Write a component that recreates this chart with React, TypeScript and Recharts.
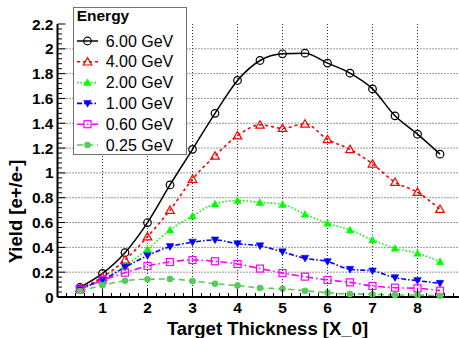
import React from 'react';
import { LineChart, Line, XAxis, YAxis, CartesianGrid, Legend } from 'recharts';

// ---- data ----
const thickness = [0.5, 1, 1.5, 2, 2.5, 3, 3.5, 4, 4.5, 5, 5.5, 6, 6.5, 7, 7.5, 8, 8.5];
const yield6GeV = [0.078, 0.19, 0.357, 0.6, 0.903, 1.19, 1.48, 1.745, 1.906, 1.96, 1.965, 1.885, 1.804, 1.677, 1.46, 1.312, 1.151];
const yield4GeV = [0.07, 0.16, 0.298, 0.486, 0.7, 0.95, 1.137, 1.3, 1.387, 1.36, 1.395, 1.27, 1.19, 1.073, 0.925, 0.844, 0.707];
const yield2GeV = [0.06, 0.14, 0.25, 0.385, 0.54, 0.653, 0.75, 0.777, 0.762, 0.746, 0.667, 0.594, 0.54, 0.46, 0.393, 0.352, 0.285];
const yield1GeV = [0.07, 0.137, 0.24, 0.333, 0.406, 0.441, 0.46, 0.43, 0.412, 0.364, 0.312, 0.285, 0.223, 0.21, 0.156, 0.132, 0.11];
const yield060GeV = [0.06, 0.135, 0.196, 0.25, 0.282, 0.298, 0.288, 0.266, 0.229, 0.193, 0.164, 0.137, 0.118, 0.089, 0.075, 0.07, 0.051];
const yield025GeV = [0.048, 0.094, 0.131, 0.143, 0.145, 0.129, 0.107, 0.092, 0.073, 0.066, 0.05, 0.035, 0.024, 0.022, 0.016, 0.016, 0.01];
const energyLabels = ['6.00 GeV', '4.00 GeV', '2.00 GeV', '1.00 GeV', '0.60 GeV', '0.25 GeV'];
const legendTitle = 'Energy';
const xTitle = 'Target Thickness [X_0]';
const yTitle = 'Yield [e+/e-]';

const xMajorTicks = [1, 2, 3, 4, 5, 6, 7, 8];
const yMajorTicks = [0.2, 0.4, 0.6, 0.8, 1, 1.2, 1.4, 1.6, 1.8, 2];
// all tick positions (major + minor subdivisions)
const xAllTicks = Array.from({ length: 44 }, (_, i) => Math.round((i + 1) * 2) / 10);
const yAllTicks = Array.from({ length: 56 }, (_, i) => (i * 4) / 100);

const FONT = '"Liberation Sans", Arial, Helvetica, sans-serif';

type Shape = 'openCircle' | 'openTriangle' | 'triangle' | 'downTriangle' | 'openSquare' | 'dot';

const SERIES: { key: string; name: string; values: number[]; color: string; dash?: string; shape: Shape; width: number }[] = [
  { key: 'e600', name: energyLabels[0], values: yield6GeV, color: '#000000', dash: undefined, shape: 'openCircle', width: 1.5 },
  { key: 'e400', name: energyLabels[1], values: yield4GeV, color: '#ff0000', dash: '3 3', shape: 'openTriangle', width: 1.6 },
  { key: 'e200', name: energyLabels[2], values: yield2GeV, color: '#00ff00', dash: '1.5 2', shape: 'triangle', width: 1.6 },
  { key: 'e100', name: energyLabels[3], values: yield1GeV, color: '#0000ff', dash: '5 2 1.5 2', shape: 'downTriangle', width: 1.6 },
  { key: 'e060', name: energyLabels[4], values: yield060GeV, color: '#ff00ff', dash: '7 3 1.5 3', shape: 'openSquare', width: 1.6 },
  { key: 'e025', name: energyLabels[5], values: yield025GeV, color: '#55cc55', dash: '6 4', shape: 'dot', width: 1.6 },
];

const data = thickness.map((t, i) => {
  const row: any = { t };
  SERIES.forEach((s) => {
    row[s.key] = s.values[i];
  });
  return row;
});

function Marker({ shape, cx, cy, color }: { shape: Shape; cx: number; cy: number; color: string }) {
  switch (shape) {
    case 'openCircle':
      return <circle cx={cx} cy={cy} r={3.8} fill="none" stroke={color} strokeWidth={1.2} />;
    case 'openTriangle':
      return (
        <polygon
          points={`${cx},${cy - 4.2} ${cx + 4.3},${cy + 3.2} ${cx - 4.3},${cy + 3.2}`}
          fill="none"
          stroke={color}
          strokeWidth={1.2}
        />
      );
    case 'triangle':
      return <polygon points={`${cx},${cy - 3.8} ${cx + 3.8},${cy + 3} ${cx - 3.8},${cy + 3}`} fill={color} stroke={color} strokeWidth={0.5} />;
    case 'downTriangle':
      return <polygon points={`${cx - 3.8},${cy - 3} ${cx + 3.8},${cy - 3} ${cx},${cy + 3.8}`} fill={color} stroke={color} strokeWidth={0.5} />;
    case 'openSquare':
      return <rect x={cx - 3.5} y={cy - 3.5} width={7} height={7} fill="none" stroke={color} strokeWidth={1.2} />;
    case 'dot':
    default:
      return <circle cx={cx} cy={cy} r={3.3} fill={color} />;
  }
}

const isMajorX = (v: number) => Math.abs(v - Math.round(v)) < 1e-6;
const isMajorY = (v: number) => Math.round(v * 100) % 20 === 0;

function XTick(props: any) {
  const { x, y, payload } = props;
  const v = payload.value as number;
  const major = isMajorX(v);
  return (
    <g>
      <line x1={x} y1={y} x2={x} y2={y - (major ? 8 : 4)} stroke="#000" strokeWidth={1} />
      {major && xMajorTicks.includes(Math.round(v)) ? (
        <text x={x} y={y + 15.5} textAnchor="middle" fontFamily={FONT} fontWeight="bold" fontSize={15.5} fill="#000">
          {String(Math.round(v))}
        </text>
      ) : null}
    </g>
  );
}

function YTick(props: any) {
  const { x, y, payload } = props;
  const v = payload.value as number;
  const major = isMajorY(v);
  const label = String(Math.round(v * 10) / 10);
  return (
    <g>
      <line x1={x} y1={y} x2={x + (major ? 8 : 4.5)} y2={y} stroke="#000" strokeWidth={1} />
      {major ? (
        <text x={x - 4} y={y} textAnchor="end" dominantBaseline="central" fontFamily={FONT} fontWeight="bold" fontSize={15.5} fill="#000">
          {label}
        </text>
      ) : null}
    </g>
  );
}

function XTitle(props: any) {
  const vb = props.viewBox || { x: 0, y: 0, width: 0 };
  return (
    <text x={vb.x + vb.width / 2 + 7.5} y={vb.y + 38} textAnchor="middle" fontFamily={FONT} fontWeight="bold" fontSize={18.5} fill="#000">
      {xTitle}
    </text>
  );
}

function YTitle(props: any) {
  const vb = props.viewBox || { x: 0, y: 0, height: 0 };
  const cx = 15.5;
  const cy = vb.y + vb.height - 85.5;
  return (
    <text
      x={cx}
      y={cy}
      textAnchor="middle"
      dominantBaseline="central"
      transform={`rotate(-90, ${cx}, ${cy})`}
      fontFamily={FONT}
      fontWeight="bold"
      fontSize={18.5}
      fill="#000"
    >
      {yTitle}
    </text>
  );
}

function LegendBox() {
  const rows = [34, 54.8, 75.6, 96.4, 117.2, 138];
  return (
    <svg width={114} height={148} style={{ display: 'block' }}>
      <rect x={0.5} y={0.5} width={113} height={147} fill="#fff" stroke="#6f6f6f" strokeWidth={1} />
      <text x={3.7} y={13.7} fontFamily={FONT} fontWeight="bold" fontSize={15.5} fill="#000">
        {legendTitle}
      </text>
      {SERIES.map((s, i) => (
        <g key={s.key}>
          <line x1={4} y1={rows[i]} x2={25} y2={rows[i]} stroke={s.color} strokeWidth={s.width} strokeDasharray={s.dash} />
          <Marker shape={s.shape} cx={14.5} cy={rows[i]} color={s.color} />
          <text x={32.7} y={rows[i]} dominantBaseline="central" fontFamily={FONT} fontSize={16} fill="#000">
            {s.name}
          </text>
        </g>
      ))}
    </svg>
  );
}

export default function App() {
  return (
    <div style={{ position: 'absolute', left: 0, top: 0, width: 459, height: 338, overflow: 'hidden', background: '#fff' }}>
      <LineChart width={470} height={338} data={data} margin={{ top: 24, right: 7.5, bottom: 0, left: 0 }}>
        <CartesianGrid
          horizontalValues={yMajorTicks}
          verticalValues={xMajorTicks}
          stroke="#333"
          strokeDasharray="1 2"
          strokeWidth={1}
        />
        <XAxis
          dataKey="t"
          type="number"
          domain={[0, 9]}
          ticks={xAllTicks}
          interval={0}
          tickSize={0}
          tickMargin={0}
          tickLine={false}
          tick={<XTick />}
          axisLine={{ stroke: '#000', strokeWidth: 2 }}
          height={41}
          label={<XTitle />}
        />
        <XAxis
          xAxisId="top"
          orientation="top"
          type="number"
          domain={[0, 9]}
          height={0}
          tick={false}
          tickLine={false}
          axisLine={{ stroke: '#000', strokeWidth: 1.5 }}
        />
        <YAxis
          type="number"
          domain={[0, 2.2]}
          ticks={yAllTicks}
          interval={0}
          tickSize={0}
          tickMargin={0}
          tickLine={false}
          tick={<YTick />}
          axisLine={{ stroke: '#000', strokeWidth: 2 }}
          width={57.5}
          label={<YTitle />}
        />
        <Legend
          layout="vertical"
          align="center"
          verticalAlign="middle"
          wrapperStyle={{ left: 73, top: 7, width: 114, height: 148 }}
          content={() => <LegendBox />}
        />
        {SERIES.map((s) => (
          <Line
            key={s.key}
            dataKey={s.key}
            name={s.name}
            type="monotone"
            stroke={s.color}
            strokeWidth={s.width}
            strokeDasharray={s.dash}
            isAnimationActive={false}
            activeDot={false}
            dot={(p: any) =>
              p.cx == null || p.cy == null ? (
                <g key={`${s.key}-${p.index}`} />
              ) : (
                <g key={`${s.key}-${p.index}`}>
                  <Marker shape={s.shape} cx={p.cx} cy={p.cy} color={s.color} />
                </g>
              )
            }
          />
        ))}
      </LineChart>
    </div>
  );
}
